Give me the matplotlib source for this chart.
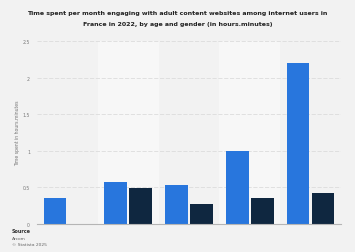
import numpy as np
import matplotlib.pyplot as plt

# Values (hours.minutes)
categories = ['Group 1', 'Group 2', 'Group 3', 'Group 4', 'Group 5']
series_blue = [0.35, 0.57, 0.53, 1.0, 2.2]
series_dark = [np.nan, 0.49, 0.27, 0.35, 0.43]
y_ticks = [0, 0.5, 1, 1.5, 2, 2.5]
y_tick_labels = ['0', '0.5', '1', '1.5', '2', '2.5']
title_lines = ['Time spent per month engaging with adult content websites among internet users in',
               'France in 2022, by age and gender (in hours.minutes)']

bg = '#f2f2f2'
fig = plt.figure(figsize=(3.55, 2.53), dpi=100, facecolor=bg)
ax = fig.add_axes([37 / 355, 1 - 225 / 253, 304 / 355, 183 / 253], facecolor=bg)

x = np.arange(len(categories))
w = 0.37
off = 0.205

# alternating light column bands
for i in x:
    if i % 2 == 1:
        ax.axvspan(i - 0.5, i + 0.5, color='#f7f7f7', zorder=0, lw=0)

ax.bar(x - off, series_blue, width=w, color='#2876dd', zorder=3)
ax.bar(x + off, series_dark, width=w, color='#0f2740', zorder=3)

ax.set_xlim(-0.5, len(categories) - 0.5)
ax.set_ylim(0, 2.5)
ax.set_yticks(y_ticks)
ax.set_yticklabels(y_tick_labels, fontsize=3.3, color='#777777')
ax.set_xticks([])
ax.tick_params(axis='y', length=0, pad=5)
ax.yaxis.grid(True, color='#dcdcdc', linestyle=(0, (5, 2)), linewidth=0.6, zorder=1)
for s in ['top', 'right', 'left']:
    ax.spines[s].set_visible(False)
ax.spines['bottom'].set_color('#b5b5b5')
ax.spines['bottom'].set_linewidth(0.8)
ax.spines['bottom'].set_zorder(4)

ax.set_ylabel('Time spent in hours.minutes', fontsize=3.3, color='#777777')
ax.yaxis.set_label_coords(-0.055, 0.5)

# title, one text per line to pin the line positions
for line, ypix in zip(title_lines, [13.3, 24.7]):
    fig.text(0.5, 1 - ypix / 253, line, ha='center', va='center',
             fontsize=4.5, fontweight='bold', color='#222222')

fig.text(12 / 355, 1 - 232 / 253, 'Source', fontsize=3.5, fontweight='bold', color='#333333', va='center')
fig.text(12 / 355, 1 - 239 / 253, 'Arcom', fontsize=3.2, color='#666666', va='center')
fig.text(12 / 355, 1 - 245 / 253, '© Statista 2025', fontsize=3.2, color='#666666', va='center')

fig.savefig('out.png', dpi=100, facecolor=bg)
